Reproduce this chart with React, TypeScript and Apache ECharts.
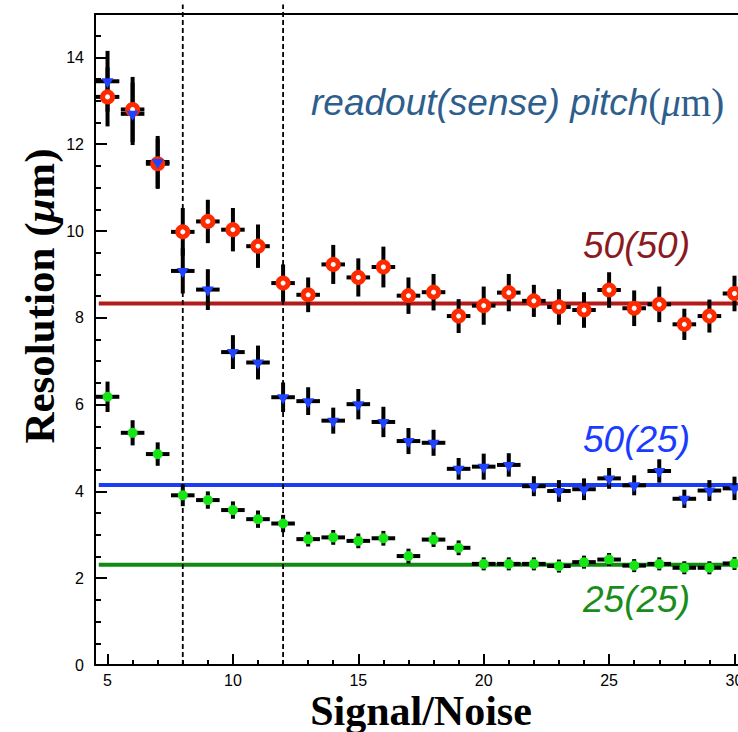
import React, { useEffect, useRef } from "react";
import * as echarts from "echarts";

// Signal/Noise bins
const snr = [5, 6, 7, 8, 9, 10, 11, 12, 13, 14, 15, 16, 17, 18, 19, 20, 21, 22, 23, 24, 25, 26, 27, 28, 29, 30];

// readout 50 (sense 50)
const res5050 = [13.09, 12.8, 11.55, 9.98, 10.22, 10.03, 9.65, 8.8, 8.53, 9.23, 8.93, 9.17, 8.51, 8.59, 8.04, 8.28, 8.58, 8.39, 8.25, 8.18, 8.64, 8.22, 8.31, 7.85, 8.04, 8.56];
const err5050 = [0.68, 0.75, 0.58, 0.55, 0.5, 0.5, 0.5, 0.43, 0.4, 0.45, 0.44, 0.47, 0.42, 0.42, 0.39, 0.44, 0.43, 0.37, 0.41, 0.41, 0.41, 0.41, 0.41, 0.36, 0.38, 0.41];

// readout 50 (sense 25)
const res5025 = [13.45, 12.7, 11.59, 9.08, 8.65, 7.21, 6.97, 6.17, 6.08, 5.63, 6.01, 5.6, 5.16, 5.12, 4.52, 4.57, 4.61, 4.12, 4.01, 4.05, 4.3, 4.14, 4.47, 3.83, 4.02, 4.07];
const err5025 = [0.7, 0.72, 0.6, 0.52, 0.47, 0.39, 0.39, 0.34, 0.32, 0.3, 0.35, 0.35, 0.3, 0.3, 0.25, 0.3, 0.27, 0.23, 0.25, 0.25, 0.24, 0.23, 0.27, 0.21, 0.24, 0.27];

// readout 25 (sense 25)
const res2525 = [6.18, 5.35, 4.86, 3.91, 3.8, 3.57, 3.36, 3.26, 2.9, 2.94, 2.86, 2.92, 2.51, 2.89, 2.7, 2.33, 2.33, 2.33, 2.28, 2.37, 2.43, 2.29, 2.33, 2.24, 2.24, 2.34];
const err2525 = [0.35, 0.29, 0.27, 0.25, 0.2, 0.2, 0.2, 0.2, 0.17, 0.17, 0.17, 0.17, 0.17, 0.17, 0.17, 0.15, 0.15, 0.15, 0.15, 0.15, 0.15, 0.15, 0.15, 0.15, 0.15, 0.15];

// asymptotic levels
const fit5050 = 8.33;
const fit5025 = 4.15;
const fit2525 = 2.31;

// vertical dashed cuts
const cutLines = [8, 12];

// ticks
const xTickLabels = [5, 10, 15, 20, 25, 30];
const xMinorTicks = [5, 6, 7, 8, 9, 10, 11, 12, 13, 14, 15, 16, 17, 18, 19, 20, 21, 22, 23, 24, 25, 26, 27, 28, 29, 30];
const yTickLabels = [0, 2, 4, 6, 8, 10, 12, 14];
const yMinorTicks = [0, 0.5, 1, 1.5, 2, 2.5, 3, 3.5, 4, 4.5, 5, 5.5, 6, 6.5, 7, 7.5, 8, 8.5, 9, 9.5, 10, 10.5, 11, 11.5, 12, 12.5, 13, 13.5, 14, 14.5];

const X_MIN = 4.5;
const X_MAX = 30.14;
const Y_MIN = 0;
const Y_MAX = 15;
const HALF_BIN = 0.47;

const SANS = "'Liberation Sans', Arial, Helvetica, sans-serif";
const SERIF = "'Liberation Serif', 'Times New Roman', serif";

function errorBars(vals: number[], errs: number[], z: number) {
  return {
    type: "custom",
    z,
    silent: true,
    clip: false,
    encode: { x: 0, y: 1 },
    data: snr.map((x, i) => [x, vals[i], errs[i]]),
    renderItem: (_params: any, api: any) => {
      const x = api.value(0);
      const y = api.value(1);
      const e = api.value(2);
      const t = api.coord([x, y + e]);
      const b = api.coord([x, y - e]);
      const l = api.coord([x - HALF_BIN, y]);
      const r = api.coord([x + HALF_BIN, y]);
      return {
        type: "group",
        children: [
          { type: "line", shape: { x1: t[0], y1: t[1], x2: b[0], y2: b[1] }, style: { stroke: "#000", lineWidth: 4 } },
          { type: "line", shape: { x1: l[0], y1: l[1], x2: r[0], y2: r[1] }, style: { stroke: "#000", lineWidth: 4 } },
        ],
      };
    },
  };
}

function fitLine(level: number, color: string) {
  return {
    type: "line",
    z: 1,
    silent: true,
    symbol: "none",
    data: [
      [4.65, level],
      [X_MAX, level],
    ],
    lineStyle: { color, width: 4 },
  };
}

export default function App() {
  const ref = useRef<HTMLDivElement>(null);

  useEffect(() => {
    if (!ref.current) return;
    const chart = echarts.init(ref.current, null, { renderer: "svg" });

    const option: any = {
      animation: false,
      backgroundColor: "#fff",
      grid: {
        left: 95,
        top: 14,
        right: 0,
        height: 651,
        show: false,
        containLabel: false,
        outerBoundsMode: "none",
      },
      xAxis: [
        {
          type: "value",
          min: X_MIN,
          max: X_MAX,
          axisLine: { show: true, onZero: false, lineStyle: { color: "#000", width: 2 } },
          axisTick: { show: true, inside: true, length: 11, customValues: xTickLabels, lineStyle: { color: "#000", width: 2 } },
          axisLabel: { customValues: xTickLabels, margin: 7, color: "#000", fontSize: 16, fontFamily: SANS, hideOverlap: false },
          splitLine: { show: false },
        },
        {
          type: "value",
          min: X_MIN,
          max: X_MAX,
          position: "bottom",
          axisLine: { show: false },
          axisTick: { show: true, inside: true, length: 5, customValues: xMinorTicks, lineStyle: { color: "#000", width: 2 } },
          axisLabel: { show: false },
          splitLine: { show: false },
        },
        {
          type: "value",
          min: X_MIN,
          max: X_MAX,
          position: "top",
          axisLine: { show: true, onZero: false, lineStyle: { color: "#000", width: 2 } },
          axisTick: { show: false },
          axisLabel: { show: false },
          splitLine: { show: false },
        },
      ],
      yAxis: [
        {
          type: "value",
          min: Y_MIN,
          max: Y_MAX,
          axisLine: { show: true, onZero: false, lineStyle: { color: "#000", width: 2 } },
          axisTick: { show: true, inside: true, length: 12, customValues: yTickLabels, lineStyle: { color: "#000", width: 2 } },
          axisLabel: { customValues: yTickLabels, margin: 11, color: "#000", fontSize: 16, fontFamily: SANS },
          splitLine: { show: false },
        },
        {
          type: "value",
          min: Y_MIN,
          max: Y_MAX,
          position: "left",
          axisLine: { show: false },
          axisTick: { show: true, inside: true, length: 6, customValues: yMinorTicks, lineStyle: { color: "#000", width: 2 } },
          axisLabel: { show: false },
          splitLine: { show: false },
        },
      ],
      series: [
        fitLine(fit5050, "#b31b1b"),
        fitLine(fit5025, "#1a3cf5"),
        fitLine(fit2525, "#118a11"),
        ...cutLines.map((c) => ({
          type: "line",
          z: 2,
          silent: true,
          symbol: "none",
          clip: false,
          data: [
            [c, Y_MIN],
            [c, 15.22],
          ],
          lineStyle: { color: "#000", width: 1.8, type: [5, 3] },
        })),
        errorBars(res5050, err5050, 3),
        {
          type: "scatter",
          z: 3,
          silent: true,
          symbol: "circle",
          symbolSize: 10,
          data: snr.map((x, i) => [x, res5050[i]]),
          itemStyle: { color: "#ffffff", borderColor: "#ff2a00", borderWidth: 5, opacity: 1 },
        },
        errorBars(res5025, err5025, 3),
        {
          type: "scatter",
          z: 3,
          silent: true,
          symbol: "triangle",
          symbolRotate: 180,
          symbolSize: [12, 10],
          symbolOffset: [0, 2],
          data: snr.map((x, i) => [x, res5025[i]]),
          itemStyle: { color: "#1f43ff", opacity: 1 },
        },
        errorBars(res2525, err2525, 3),
        {
          type: "scatter",
          z: 3,
          silent: true,
          symbol: "circle",
          symbolSize: 10,
          data: snr.map((x, i) => [x, res2525[i]]),
          itemStyle: { color: "#16e616", opacity: 1 },
        },
      ],
      graphic: [
        {
          type: "text",
          x: 311,
          y: 102,
          z: 10,
          style: {
            text: "{a|readout(sense) pitch}{b|(}{c|μ}{b|m)}",
            align: "left",
            verticalAlign: "middle",
            textAlign: "left",
            textVerticalAlign: "middle",
            rich: {
              a: { fontFamily: SANS, fontStyle: "italic", fontSize: 37, fill: "#2e5e8c" },
              b: { fontFamily: SERIF, fontSize: 39, fill: "#2e5e8c" },
              c: { fontFamily: SERIF, fontStyle: "italic", fontSize: 39, fill: "#2e5e8c" },
            },
          },
        },
        {
          type: "text",
          x: 583,
          y: 245,
          z: 10,
          style: {
            text: "50(50)",
            fontFamily: SANS,
            fontStyle: "italic",
            fontSize: 37,
            fill: "#8b1a1f",
            align: "left",
            verticalAlign: "middle",
            textAlign: "left",
            textVerticalAlign: "middle",
          },
        },
        {
          type: "text",
          x: 583,
          y: 439,
          z: 10,
          style: {
            text: "50(25)",
            fontFamily: SANS,
            fontStyle: "italic",
            fontSize: 37,
            fill: "#1a3cff",
            align: "left",
            verticalAlign: "middle",
            textAlign: "left",
            textVerticalAlign: "middle",
          },
        },
        {
          type: "text",
          x: 583,
          y: 599,
          z: 10,
          style: {
            text: "25(25)",
            fontFamily: SANS,
            fontStyle: "italic",
            fontSize: 37,
            fill: "#1a8c1a",
            align: "left",
            verticalAlign: "middle",
            textAlign: "left",
            textVerticalAlign: "middle",
          },
        },
        {
          type: "text",
          x: 421,
          y: 711,
          z: 10,
          style: {
            text: "Signal/Noise",
            fontFamily: SERIF,
            fontWeight: "bold",
            fontSize: 42,
            fill: "#000",
            align: "center",
            verticalAlign: "middle",
            textAlign: "center",
            textVerticalAlign: "middle",
          },
        },
        {
          type: "text",
          x: 39,
          y: 296,
          rotation: Math.PI / 2,
          z: 10,
          style: {
            text: "{a|Resolution (}{c|μ}{a|m)}",
            align: "center",
            verticalAlign: "middle",
            textAlign: "center",
            textVerticalAlign: "middle",
            rich: {
              a: { fontFamily: SERIF, fontWeight: "bold", fontSize: 43, fill: "#000" },
              c: { fontFamily: SERIF, fontWeight: "bold", fontStyle: "italic", fontSize: 43, fill: "#000" },
            },
          },
        },
      ],
    };

    chart.setOption(option);
    return () => {
      chart.dispose();
    };
  }, []);

  return (
    <div
      ref={ref}
      style={{ position: "fixed", left: 0, top: 0, width: 738, height: 732, background: "#fff" }}
    />
  );
}
